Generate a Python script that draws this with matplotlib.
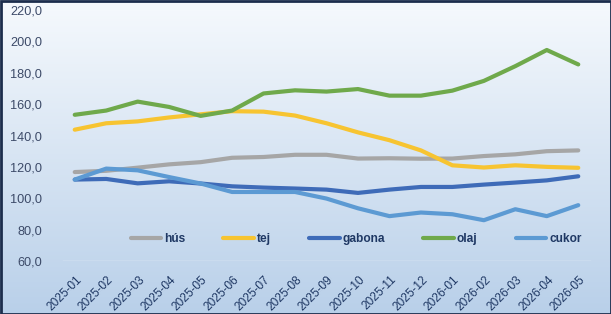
import numpy as np
import matplotlib
matplotlib.use("Agg")
import matplotlib.pyplot as plt
import matplotlib.transforms as mtransforms
from matplotlib.patches import Rectangle

months = ["2025-01", "2025-02", "2025-03", "2025-04", "2025-05", "2025-06",
          "2025-07", "2025-08", "2025-09", "2025-10", "2025-11", "2025-12",
          "2026-01", "2026-02", "2026-03", "2026-04", "2026-05"]

hus = [116.7, 117.5, 119.5, 121.6, 123.0, 125.8, 126.3, 127.7, 127.7, 125.3,
       125.5, 125.2, 125.3, 126.9, 128.0, 130.0, 130.5]
tej = [143.7, 147.8, 149.0, 151.5, 153.5, 155.5, 155.2, 152.7, 147.8, 142.0,
       137.0, 130.5, 121.0, 119.6, 121.0, 120.0, 119.4]
gabona = [111.9, 112.3, 109.5, 110.8, 109.4, 107.6, 106.8, 106.2, 105.5, 103.4,
          105.5, 107.2, 107.2, 108.7, 110.0, 111.4, 114.0]
olaj = [153.2, 155.9, 161.6, 158.2, 152.5, 155.9, 166.8, 168.8, 168.0, 169.6,
        165.4, 165.4, 168.6, 174.8, 184.2, 194.5, 185.3]
cukor = [111.9, 118.9, 117.8, 113.5, 109.4, 104.0, 104.0, 104.0, 99.8, 93.6,
         88.6, 90.9, 89.8, 86.0, 93.0, 88.6, 95.6]

series_names = ["hús", "tej", "gabona", "olaj", "cukor"]
series_values = [hus, tej, gabona, olaj, cukor]
colors = ["#a6a6a6", "#f7c431", "#3e6bb8", "#6fa94b", "#5c9ad3"]

y_ticks = [60, 80, 100, 120, 140, 160, 180, 200, 220]

W, H = 611, 314
fig = plt.figure(figsize=(W / 100, H / 100), dpi=100)

# background gradient
bg = fig.add_axes([0, 0, 1, 1], zorder=-10)
grad = np.linspace(0, 1, 256).reshape(-1, 1)
top = np.array([0.965, 0.978, 0.992])
bot = np.array([0.725, 0.815, 0.915])
img = top[None, None, :] * (1 - grad[..., None]) + bot[None, None, :] * grad[..., None]
bg.imshow(img, aspect="auto", extent=[0, 1, 0, 1], origin="upper")
bg.set_axis_off()

left = 59 / W
right = 594 / W
bottom = (H - 261) / H
topf = (H - 10) / H
ax = fig.add_axes([left, bottom, right - left, topf - bottom])
ax.patch.set_alpha(0)
for s in ax.spines.values():
    s.set_visible(False)

x = np.arange(len(months))
for name, vals, c in zip(series_names, series_values, colors):
    ax.plot(x, vals, color=c, lw=3.0, label=name, solid_capstyle="round",
            solid_joinstyle="round")

ax.set_xlim(-0.5, len(months) - 0.5)
ax.set_ylim(60, 220)
ax.set_yticks(y_ticks)
ax.set_yticklabels([f"{v:.1f}".replace(".", ",") for v in y_ticks])
ax.tick_params(axis="y", length=0, pad=12, labelsize=9.2, labelcolor="#3c4a68")
ax.axhline(60, color="#e8f0f8", lw=1.0, xmin=0.007, xmax=0.993)

ax.set_xticks(x)
ax.set_xticklabels(months, rotation=45, ha="right", va="center",
                   rotation_mode="anchor")
ax.tick_params(axis="x", length=0, pad=0, labelsize=8.6, labelcolor="#1f3864")
offset = mtransforms.ScaledTranslation(5 / 100, -17 / 100, fig.dpi_scale_trans)
for lab in ax.get_xticklabels():
    lab.set_transform(lab.get_transform() + offset)

for lab in ax.get_yticklabels() + ax.get_xticklabels():
    lab.set_fontfamily("Liberation Sans")

leg = fig.legend(loc="center", bbox_to_anchor=(356 / W, 1 - 239 / H), ncol=5,
                 frameon=False, handlelength=2.55, handletextpad=0.25,
                 columnspacing=3.2,
                 prop={"family": "Liberation Sans", "weight": "bold", "size": 8.6})
for t in leg.get_texts():
    t.set_color("#1f3864")
for h in leg.get_lines():
    h.set_linewidth(3.0)

fig.patches.append(Rectangle((0.5 / W, 0.5 / H), 1 - 1.0 / W, 1 - 1.0 / H,
                             transform=fig.transFigure, fill=False,
                             edgecolor="#1c2d4c", lw=2.0, zorder=10))

fig.savefig("out.png", dpi=100)
